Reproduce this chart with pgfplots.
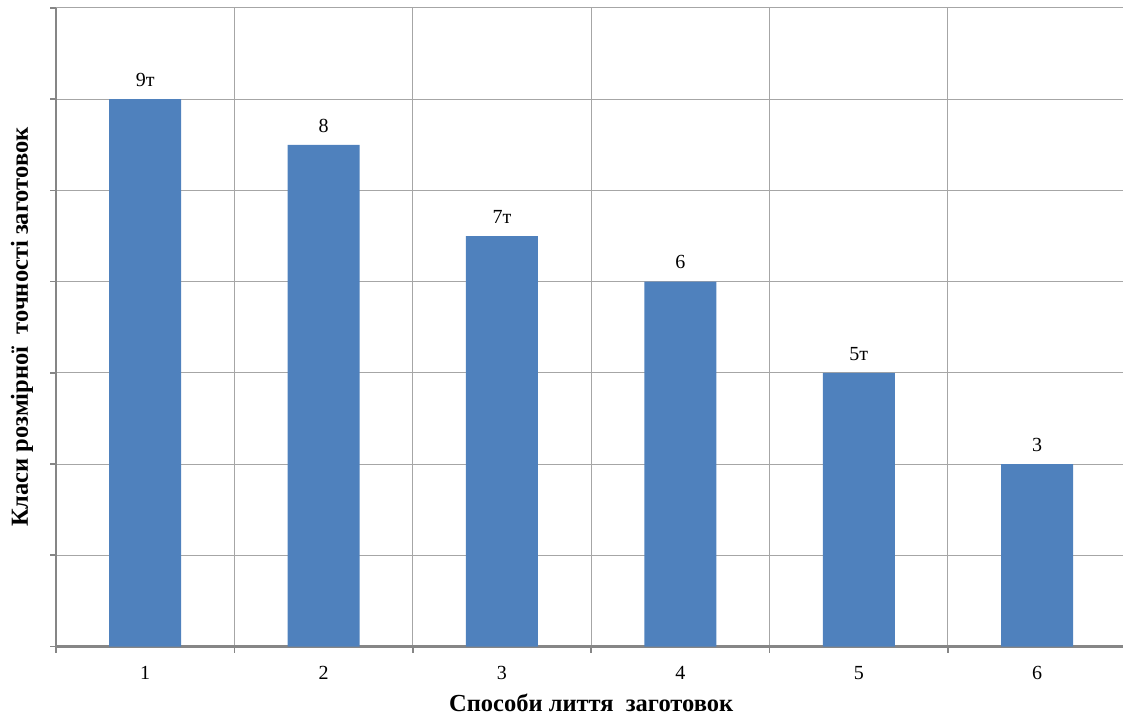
\documentclass[border=0pt]{standalone}
\usepackage{fontspec}
\setmainfont{Liberation Serif}
\usepackage{pgfplots}
\pgfplotsset{compat=1.18}

\definecolor{barblue}{HTML}{4F81BD}
\definecolor{axisgray}{HTML}{868686}
\definecolor{gridgray}{HTML}{A6A6A6}

\begin{document}
\begin{tikzpicture}
\path[use as bounding box] (0,0) rectangle (1123pt,717pt);
\begin{axis}[
  at={(56pt,70.5pt)}, anchor=south west,
  scale only axis,
  width=1070.4pt, height=638.5pt,
  xmin=0.5, xmax=6.5, ymin=0, ymax=7,
  axis lines=left,
  axis line style={-, draw=axisgray, line width=2.2pt},
  ybar, bar width=72pt,
  xtick={0.5,1.5,2.5,3.5,4.5,5.5,6.5}, xticklabels={},
  extra x ticks={1,2,3,4,5,6},
  extra x tick labels={1,2,3,4,5,6},
  extra x tick style={major tick length=0pt, grid=none},
  ytick={0,1,2,3,4,5,6,7}, yticklabels={},
  tick align=outside, major tick length=6pt,
  tick style={draw=axisgray, line width=1.6pt},
  xmajorgrids, ymajorgrids,
  major grid style={draw=gridgray, line width=1pt},
  xticklabel style={font=\fontsize{20}{22}\selectfont, yshift=-16pt},
  every axis x label/.style={at={(axis description cs:0.5,-0.0885)}, anchor=center,
    font=\fontsize{24.5}{28}\selectfont\bfseries},
  every axis y label/.style={at={(axis description cs:-0.0318,0.5)}, anchor=center, rotate=90,
    font=\fontsize{24.5}{28}\selectfont\bfseries},
  xlabel={Способи лиття\ \ заготовок},
  ylabel={Класи розмірної\ \ точності заготовок},
  nodes near coords,
  point meta=explicit symbolic,
  nodes near coords style={font=\fontsize{20}{22}\selectfont, yshift=9pt},
]
\addplot[fill=barblue, draw=none] table[meta=lbl] {
x y   lbl
1 6   9т
2 5.5 8
3 4.5 7т
4 4   6
5 3   5т
6 2   3
};
\end{axis}
\end{tikzpicture}
\end{document}
